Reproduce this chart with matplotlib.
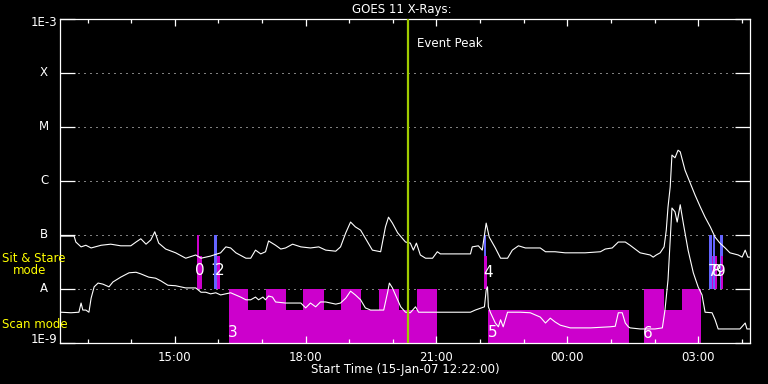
import numpy as np
import matplotlib
matplotlib.use('Agg')
import matplotlib.pyplot as plt
from matplotlib.ticker import MultipleLocator, FuncFormatter

# times are hours since 15-Jan-07 00:00, fluxes are log10(W/m^2)
long_t = [12.39, 12.69, 12.73, 12.85, 12.96, 13.08, 13.31, 13.53, 13.76, 13.99,
          14.11, 14.22, 14.34, 14.45, 14.54, 14.63, 14.79, 15.02, 15.25, 15.48,
          15.60, 15.82, 16.05, 16.17, 16.28, 16.40, 16.63, 16.74, 16.85, 16.97,
          17.08, 17.15, 17.31, 17.43, 17.54, 17.70, 17.89, 18.11, 18.30, 18.46,
          18.69, 18.80, 18.92, 19.03, 19.14, 19.26, 19.37, 19.53, 19.72, 19.83,
          19.90, 19.99, 20.11, 20.29, 20.40, 20.47, 20.54, 20.63, 20.75, 20.91,
          21.02, 21.09, 21.78, 21.82, 21.96, 22.05, 22.14, 22.21, 22.35, 22.47,
          22.63, 22.74, 22.88, 23.04, 23.38, 23.50, 23.72, 23.95, 24.18, 24.41,
          24.76, 24.87, 25.03, 25.17, 25.33, 25.44, 25.67, 25.90, 25.97, 26.04,
          26.13, 26.22, 26.27, 26.31, 26.36, 26.40, 26.47, 26.54, 26.59, 26.70,
          26.82, 26.93, 27.05, 27.16, 27.28, 27.39, 27.50, 27.62, 27.73, 27.92,
          28.01, 28.08, 28.14, 28.19]
long_f = [-7.02, -7.02, -7.13, -7.22, -7.19, -7.24, -7.19, -7.17, -7.20, -7.20,
          -7.13, -7.07, -7.17, -7.09, -6.94, -7.15, -7.26, -7.33, -7.43, -7.37,
          -7.43, -7.39, -7.33, -7.22, -7.24, -7.33, -7.43, -7.43, -7.28, -7.35,
          -7.31, -7.11, -7.19, -7.26, -7.24, -7.17, -7.22, -7.24, -7.22, -7.28,
          -7.30, -7.22, -6.96, -6.76, -6.85, -6.91, -7.06, -7.28, -7.31, -6.85,
          -6.67, -6.78, -6.96, -7.13, -7.15, -7.28, -7.15, -7.37, -7.43, -7.43,
          -7.31, -7.35, -7.35, -7.22, -7.20, -7.28, -6.78, -7.04, -7.24, -7.43,
          -7.43, -7.28, -7.20, -7.24, -7.24, -7.31, -7.31, -7.33, -7.33, -7.33,
          -7.31, -7.26, -7.24, -7.13, -7.13, -7.19, -7.33, -7.37, -7.41, -7.37,
          -7.33, -7.22, -6.91, -6.48, -6.11, -5.52, -5.57, -5.43, -5.46, -5.80,
          -6.04, -6.26, -6.48, -6.67, -6.85, -7.04, -7.15, -7.24, -7.33, -7.37,
          -7.41, -7.28, -7.41, -7.41]

short_t = [12.39, 12.62, 12.80, 12.85, 12.89, 12.96, 13.03, 13.08, 13.15, 13.24,
           13.35, 13.49, 13.58, 13.76, 13.95, 14.11, 14.22, 14.40, 14.56, 14.68,
           14.84, 15.02, 15.25, 15.48, 15.60, 15.71, 15.82, 15.94, 16.05, 16.28,
           16.51, 16.63, 16.74, 16.85, 16.92, 17.02, 17.08, 17.15, 17.24, 17.31,
           17.54, 17.89, 18.00, 18.11, 18.23, 18.34, 18.46, 18.69, 18.80, 18.92,
           19.03, 19.14, 19.26, 19.37, 19.49, 19.79, 19.88, 19.92, 19.99, 20.06,
           20.18, 20.29, 20.40, 20.52, 20.59, 21.09, 21.78, 21.89, 22.10, 22.14,
           22.17, 22.19, 22.24, 22.35, 22.42, 22.47, 22.53, 22.63, 22.92, 23.15,
           23.38, 23.50, 23.61, 23.72, 23.84, 24.07, 24.53, 24.98, 25.10, 25.17,
           25.26, 25.33, 25.40, 25.44, 25.67, 26.01, 26.18, 26.24, 26.31, 26.36,
           26.40, 26.47, 26.52, 26.59, 26.66, 26.77, 26.89, 27.00, 27.09, 27.16,
           27.32, 27.39, 27.46, 27.96, 28.08, 28.12, 28.19]
short_f = [-8.43, -8.44, -8.43, -8.26, -8.39, -8.39, -8.43, -8.17, -7.96, -7.89,
           -7.91, -7.96, -7.87, -7.78, -7.70, -7.69, -7.72, -7.78, -7.80, -7.85,
           -7.93, -7.94, -7.98, -7.98, -8.06, -8.06, -8.09, -8.07, -8.11, -8.07,
           -8.15, -8.20, -8.20, -8.15, -8.20, -8.15, -8.20, -8.13, -8.15, -8.24,
           -8.26, -8.26, -8.35, -8.26, -8.33, -8.24, -8.24, -8.28, -8.26, -8.17,
           -8.04, -8.11, -8.20, -8.35, -8.39, -8.39, -8.06, -7.89, -7.98, -8.11,
           -8.33, -8.43, -8.44, -8.33, -8.43, -8.43, -8.43, -8.39, -8.33, -8.02,
           -7.96, -8.33, -8.44, -8.63, -8.70, -8.57, -8.70, -8.43, -8.43, -8.44,
           -8.52, -8.63, -8.54, -8.61, -8.67, -8.72, -8.72, -8.70, -8.69, -8.44,
           -8.44, -8.63, -8.70, -8.72, -8.74, -8.74, -8.72, -8.39, -7.83, -7.09,
           -6.50, -6.57, -6.76, -6.44, -6.78, -7.28, -7.70, -7.96, -8.11, -8.43,
           -8.44, -8.57, -8.74, -8.74, -8.63, -8.74, -8.74]

# scan mode blocks
scan_start = [16.24, 16.67, 17.08, 17.54, 17.95, 18.41, 18.82, 19.28, 19.69, 20.15, 20.56,
              22.19, 25.76, 26.22, 26.63]
scan_end = [16.67, 17.08, 17.54, 17.95, 18.41, 18.82, 19.28, 19.69, 20.15, 20.56, 21.02,
            25.42, 26.22, 26.63, 27.07]
scan_top = [-8.0, -8.39, -8.0, -8.39, -8.0, -8.39, -8.0, -8.39, -8.0, -8.39, -8.0,
            -8.39, -8.0, -8.39, -8.0]

# sit & stare blocks
tall_start = [15.50, 15.89, 22.08, 27.25, 27.34, 27.50]
tall_end = [15.55, 15.96, 22.13, 27.31, 27.39, 27.56]
tall_kind = ['m', 'b', 'b', 'b', 'b', 'b']
low_start = [15.50, 15.96, 22.08, 27.31, 27.39, 27.53]
low_end = [15.62, 16.03, 22.17, 27.35, 27.44, 27.58]

ev_names = ['0', '1', '2', '3', '4', '5', '6', '7', '8', '9']
ev_t = [15.57, 15.925, 16.03, 16.33, 22.19, 22.30, 25.85, 27.34, 27.43, 27.52]
ev_f = [-7.65, -7.65, -7.65, -8.80, -7.69, -8.81, -8.83, -7.68, -7.68, -7.68]

peak_t = 20.34
t0 = 12 + 22 / 60.
t1 = 28.19

level_names = ['A', 'B', 'C', 'M', 'X']

MAG = '#cc00cc'
BLUE = '#6464ff'
GREEN = '#a0cc00'

plt.rcParams['font.family'] = 'DejaVu Sans'
fig = plt.figure(figsize=(7.68, 3.84), dpi=100, facecolor='black')
ax = fig.add_axes([60 / 768., 1 - 343 / 384., 690 / 768., 324 / 384.])
ax.set_facecolor('black')
ax.set_yscale('log')
ax.set_xlim(t0, t1)
ax.set_ylim(1e-9, 1e-3)

for i in range(len(scan_start)):
    ax.fill_between([scan_start[i], scan_end[i]], 1e-9, 10 ** scan_top[i],
                    color=MAG, linewidth=0, zorder=1)
for i in range(len(tall_start)):
    ax.fill_between([tall_start[i], tall_end[i]], 1e-8, 1e-7,
                    color=MAG if tall_kind[i] == 'm' else BLUE, linewidth=0, zorder=1)
for i in range(len(low_start)):
    ax.fill_between([low_start[i], low_end[i]], 1e-8, 10 ** -7.39,
                    color=MAG, linewidth=0, zorder=1.5)

# level grid
for k in range(-8, -3):
    ax.axhline(10.0 ** k, color='white', lw=0.72, ls=(0, (1, 5)), zorder=0.5)

ax.plot(long_t, 10 ** np.array(long_f), color='white', lw=0.8, zorder=3)
ax.plot(short_t, 10 ** np.array(short_f), color='white', lw=0.8, zorder=3)

ax.axvline(peak_t, color=GREEN, lw=1.6, zorder=4)
ax.text(peak_t + 0.22, 10 ** -3.45, 'Event Peak', color='white', fontsize=8.5,
        va='center', ha='left', zorder=5)

for i in range(len(ev_names)):
    # label 1 sits under its bar, as in the original
    ax.text(ev_t[i], 10 ** ev_f[i], ev_names[i], color='white', fontsize=11,
            ha='center', va='center', zorder=0.8 if ev_names[i] == '1' else 5)

# axes styling
for s in ax.spines.values():
    s.set_color('white')
    s.set_linewidth(0.9)
ax.xaxis.set_major_locator(MultipleLocator(3))
ax.xaxis.set_minor_locator(MultipleLocator(1))
ax.xaxis.set_major_formatter(FuncFormatter(lambda v, p: '%02d:00' % (int(round(v)) % 24)))
ax.tick_params(axis='x', which='both', direction='in', top=True, bottom=True,
               colors='white', labelsize=8.5, width=0.9)
ax.tick_params(axis='x', which='major', length=5, pad=6)
ax.tick_params(axis='x', which='minor', length=3)
ax.set_yticks([10.0 ** k for k in range(-9, -2)])
ax.yaxis.set_minor_locator(plt.NullLocator())
ax.tick_params(axis='y', which='major', direction='in', left=True, right=True,
               length=10.8, width=0.9, color='white', labelleft=False)

ax.text(-0.004, 0.012, '1E-9', color='white', fontsize=8.5, ha='right', va='center',
        transform=ax.transAxes)
ax.text(-0.004, 0.988, '1E-3', color='white', fontsize=8.5, ha='right', va='center',
        transform=ax.transAxes)
for i, nm in enumerate(level_names):
    ax.text(-0.023, (i + 1) / 6., nm, color='white', fontsize=8.5, ha='center',
            va='center', transform=ax.transAxes)

fig.text(2 / 768., 1 - 258 / 384., 'Sit & Stare', color='yellow', fontsize=8.5,
         ha='left', va='center')
fig.text(13 / 768., 1 - 271 / 384., 'mode', color='yellow', fontsize=8.5,
         ha='left', va='center')
fig.text(2 / 768., 1 - 324 / 384., 'Scan mode', color='yellow', fontsize=8.5,
         ha='left', va='center')

fig.text(402 / 768., 1 - 9 / 384., 'GOES 11 X-Rays:', color='white', fontsize=8.5,
         ha='center', va='center')
fig.text(405 / 768., 1 - 369 / 384., 'Start Time (15-Jan-07 12:22:00)', color='white',
         fontsize=8.5, ha='center', va='center')

fig.savefig('out.png', dpi=100, facecolor='black')
